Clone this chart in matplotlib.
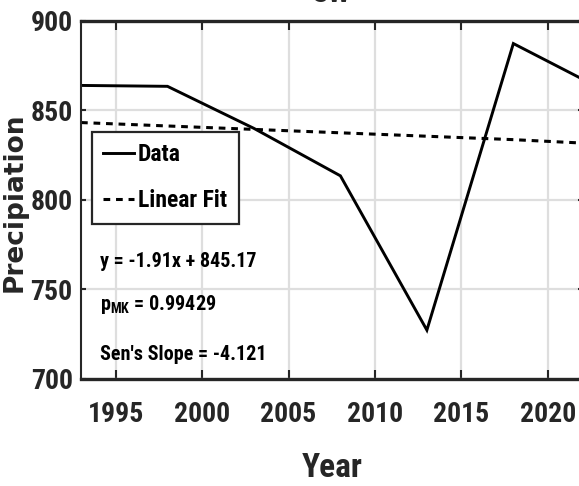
import numpy as np
import matplotlib
matplotlib.use("Agg")
import matplotlib.pyplot as plt
from matplotlib.lines import Line2D

# precipitation series (5-yearly) and trend statistics
years = [1993, 1998, 2003, 2008, 2013, 2018, 2022]
precip = [864.0, 863.5, 840.0, 813.5, 727.3, 887.4, 867.5]
fit_slope = -1.91
fit_intercept = 845.17
p_mk = 0.99429
sens_slope = -4.121
region = "SW"

xticks = [1995, 2000, 2005, 2010, 2015, 2020]
yticks = [700, 750, 800, 850, 900]

# prefer a condensed face, fall back to the regular one
FONTS = ["Roboto Condensed", "Liberation Sans Narrow", "Liberation Sans", "DejaVu Sans"]
DARK = "#262626"

plt.rcParams["font.family"] = FONTS
plt.rcParams["font.weight"] = "bold"
plt.rcParams["axes.labelweight"] = "bold"
plt.rcParams["mathtext.fontset"] = "custom"
plt.rcParams["mathtext.rm"] = "Roboto Condensed:bold"
plt.rcParams["mathtext.it"] = "Roboto Condensed:bold"
plt.rcParams["mathtext.bf"] = "Roboto Condensed:bold"

fig = plt.figure(figsize=(5.79, 4.86), dpi=100, facecolor="white")
ax = fig.add_axes([0.1399, 0.2202, 0.8662, 0.7366])

# linear trend evaluated on the series index (1..n)
idx = np.arange(1, len(years) + 1)
fit = fit_slope * idx + fit_intercept
fit_dash = (0, (2.2, 1.9))

ax.plot(years, precip, color="black", lw=2.1, solid_joinstyle="miter")
ax.plot(years, fit, color="black", lw=2.2, linestyle=fit_dash)

ax.set_xlim(1993, 2022)
ax.set_ylim(700, 900)
ax.set_xticks(xticks)
ax.set_yticks(yticks)

ax.grid(True, color="#dedede", lw=1.6)
ax.set_axisbelow(True)

for side in ["top", "bottom"]:
    ax.spines[side].set_linewidth(2.4)
    ax.spines[side].set_color(DARK)
for side in ["left", "right"]:
    ax.spines[side].set_linewidth(1.5)
    ax.spines[side].set_color(DARK)

ax.tick_params(axis="x", direction="in", length=6.5, width=1.5, top=True,
               labelsize=20, pad=16, colors=DARK)
ax.tick_params(axis="y", direction="in", length=3.6, width=1.5, right=True,
               labelsize=20, pad=6, colors=DARK)

ax.set_xlabel("Year", fontsize=24, color=DARK, fontweight="bold")
ax.xaxis.set_label_coords(0.5, -0.205)
ax.set_ylabel("Precipiation", fontsize=19, color=DARK,
              family=["DejaVu Sans"], fontweight="bold")
ax.yaxis.set_label_coords(-0.1057, 0.495)

# title sits above the top edge, only its lower part shows
ax.set_title(region, fontsize=22, fontweight="bold", color=DARK, y=1.0, pad=13.5)

handles = [Line2D([], [], color="black", lw=2.1),
           Line2D([], [], color="black", lw=2.2, linestyle=fit_dash)]
leg = ax.legend(handles, ["Data", "Linear Fit"], loc="upper left",
                bbox_to_anchor=(0.0213, 0.6908), borderaxespad=0,
                fontsize=17, handlelength=1.3, handletextpad=0.15,
                borderpad=0.5, labelspacing=0.95, fancybox=False,
                framealpha=1, edgecolor=DARK)
leg.get_frame().set_linewidth(1.6)

ax.text(0.038, 0.3137, f"y = {fit_slope:.2f}x + {fit_intercept:.2f}",
        transform=ax.transAxes, fontsize=14.5, va="baseline", color="black")
ax.text(0.038, 0.1927, r"$\mathrm{p}_{\mathrm{MK}}$" + f" = {p_mk:.5f}",
        transform=ax.transAxes, fontsize=14.5, va="baseline", color="black")
ax.text(0.038, 0.0531, f"Sen's Slope = {sens_slope:.3f}",
        transform=ax.transAxes, fontsize=14.5, va="baseline", color="black")

fig.savefig("out.png", dpi=100, facecolor="white")
